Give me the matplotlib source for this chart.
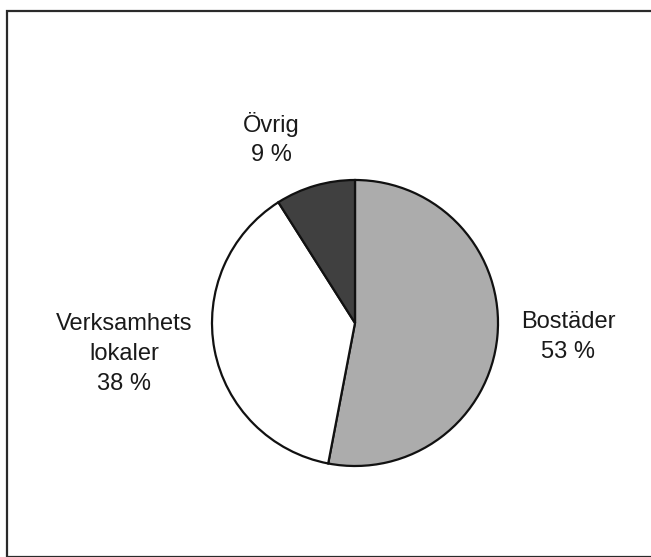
import matplotlib
matplotlib.use("Agg")
import matplotlib.pyplot as plt
from matplotlib.patches import Rectangle

categories = ["Bostäder", "Verksamhets\nlokaler", "Övrig"]
shares = [53, 38, 9]
colors = ["#acacac", "#ffffff", "#404040"]

# label anchor points (pixel coords, y from top)
label_pos = [(568, 337), (124, 354), (271, 139)]

fig = plt.figure(figsize=(6.51, 5.57), dpi=100)
ax = fig.add_axes([0, 0, 1, 1])
ax.set_xlim(0, 651)
ax.set_ylim(0, 557)
ax.set_aspect("equal")
ax.axis("off")

# frame around the chart (right and bottom edges fall off the scan)
ax.add_patch(Rectangle((7, 0), 660, 546.5, fill=False, lw=1.6, ec="#2a2a2a"))

ax.pie(shares, colors=colors, startangle=90, counterclock=False,
       center=(355, 557 - 323), radius=143,
       wedgeprops=dict(edgecolor="#111111", linewidth=1.6))

for cat, val, (x, y) in zip(categories, shares, label_pos):
    ax.text(x, 557 - y, f"{cat}\n{val} %", ha="center", va="center",
            fontsize=17, family="Liberation Sans", color="#1a1a1a",
            linespacing=1.45)

ax.set_xlim(0, 651)
ax.set_ylim(0, 557)
fig.savefig("out.png", dpi=100)
